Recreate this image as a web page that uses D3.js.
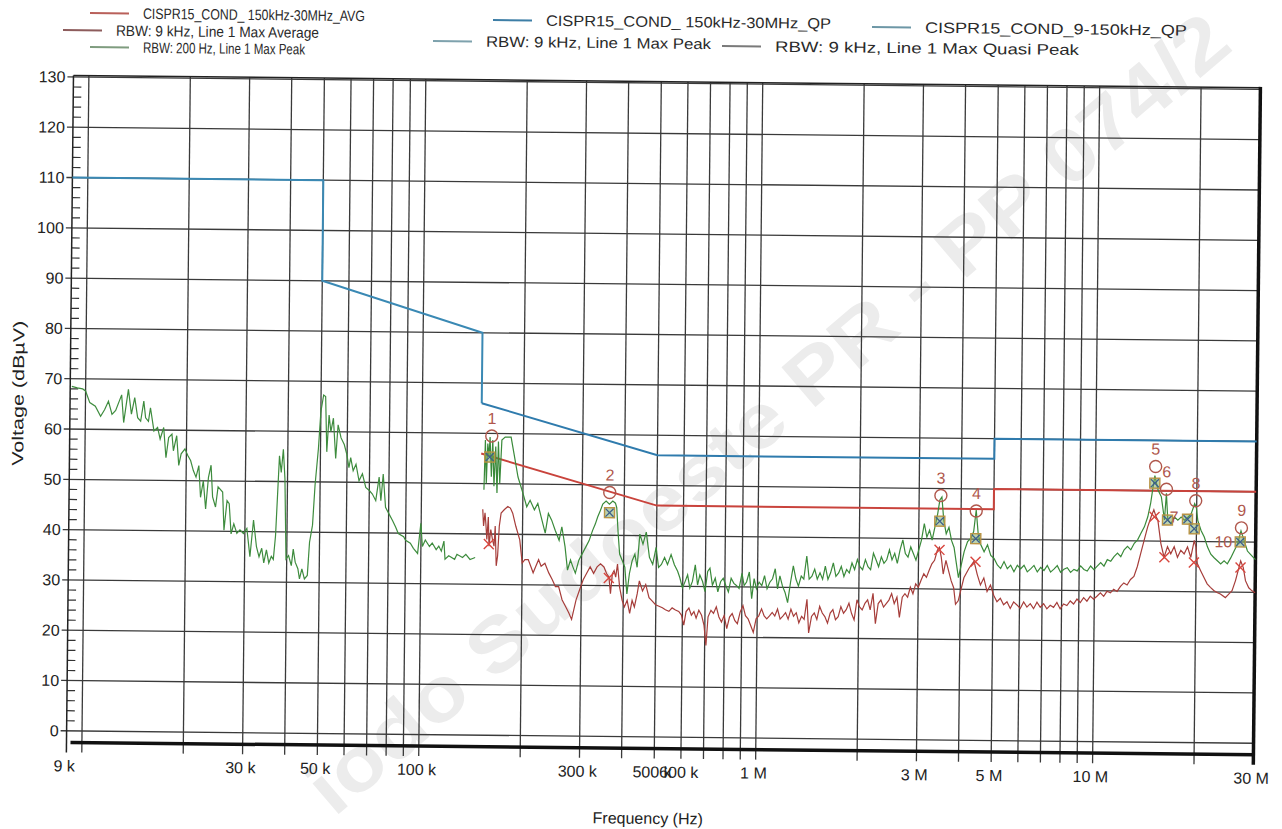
<!doctype html>
<html>
<head>
<meta charset="utf-8">
<title>CISPR15 conducted emissions</title>
<script src="https://cdn.jsdelivr.net/npm/d3@7"></script>
<style>
  body { margin: 0; background: #fff; }
  text { font-family: "Liberation Sans", Arial, sans-serif; fill: #222; }
  .leg text { font-family: "Liberation Sans Narrow", "Liberation Sans", Arial, sans-serif; font-size: 15px; fill: #2a2a2a; }
  .stamp { font-family: "Liberation Sans", Arial, sans-serif; font-weight: bold; fill: #ececec; }
</style>
</head>
<body>
<svg id="chart" width="1282" height="829"></svg>
<script>
// ---- data (frequency in kHz, level in dBuV) ----
const limitAvg   = [[150, 56], [500, 46], [5000, 46], [5000, 50], [30000, 50]];
const limitQp    = [[150, 66], [500, 56], [5000, 56], [5000, 60], [30000, 60]];
const limitQpLow = [[9, 110], [50, 110], [50, 90], [150, 80], [150, 66]];

// RBW 200 Hz max peak, 9 kHz - 150 kHz
const peak200 = [[9.1,68.5],[9.45,68.2],[9.8,68.0],[10,67.6],[10.3,65.3],[10.7,64.6],[11.1,62.6],[11.4,63.9],[11.7,65.6],[12.0,63.0],
  [12.3,63.8],[12.8,66.9],[13.0,61.4],[13.4,68.0],[13.7,63.1],[14.0,66.4],[14.3,62.4],[14.6,61.7],[14.9,65.7],[15.1,62.4],
  [15.4,61.7],[15.6,64.4],[16.0,59.8],[16.4,60.5],[16.7,58.2],[17.1,60.5],[17.4,54.5],[17.7,58.5],[18.1,59.2],[18.3,55.9],
  [18.7,58.9],[19.0,53.0],[19.3,55.3],[19.8,56.3],[20.2,55.0],[20.6,54.0],[21.0,52.0],[21.4,50.7],[21.8,53.0],[22.1,46.7],
  [22.5,50.0],[22.9,44.4],[23.3,50.7],[23.7,53.1],[24.0,46.8],[24.5,44.8],[24.9,48.8],[25.7,47.8],[26.0,40.2],[26.5,46.1],
  [26.9,45.5],[27.3,39.5],[27.8,41.5],[28.4,39.6],[29.0,40.3],[29.7,39.6],[30.4,40.6],[31.1,35.0],[31.8,42.3],[32.5,37.0],
  [33.1,35.0],[33.7,36.7],[34.2,33.8],[34.8,36.4],[35.4,33.8],[36.0,35.1],[36.5,34.5],[37.0,39.2],[37.8,55.1],[38.3,51.8],
  [38.8,56.4],[39.3,50.5],[39.8,34.6],[40.5,35.3],[41.3,33.3],[41.8,36.6],[42.4,34.0],[43.2,32.7],[43.7,30.7],[44.4,32.7],
  [45.2,30.7],[46.1,31.4],[46.7,38.0],[47.6,41.4],[48.3,49.4],[49.3,56.7],[50.0,64.0],[50.9,67.3],[51.6,67.0],[52.2,56.0],
  [52.9,63.3],[53.6,60.0],[54.5,62.7],[55.5,54.7],[56.3,61.4],[57.5,58.8],[58.8,57.5],[59.9,55.5],[60.8,52.9],[61.5,54.9],
  [62.6,52.3],[63.8,53.6],[65.2,50.3],[66.7,51.7],[68.3,49.0],[70.0,48.4],[71.5,47.7],[73.2,46.4],[74.8,51.1],[75.8,46.4],
  [76.9,51.7],[78.3,45.1],[80.2,43.8],[82.2,42.5],[84.0,41.2],[85.6,39.9],[88.8,39.3],[90,38.6],[93,38.0],[95,37.0],
  [97.8,36.0],[99.8,42.0],[101,37.4],[103,38.7],[106,37.4],[108,38.1],[111,36.8],[113,37.5],[115,36.5],[117,38.5],
  [118,34.9],[121,35.6],[126,34.9],[128,35.9],[133,35.3],[136,35.9],[140,34.9],[145,35.3]];

// RBW 9 kHz max peak, 150 kHz - 30 MHz
const peak9k = [[153.2,48.8],[154.2,58.7],[155.6,50.1],[156.8,58.0],[158.2,55.4],[159.2,59.3],[161,51.4],[162.2,58.7],[164,49.5],[165.6,57.4],
  [167.5,48.2],[168.6,58.4],[170.6,50.1],[172.6,58.7],[176.5,59.3],[180.6,59.3],[183.8,59.3],[187.6,56.1],[193.2,51.4],[200,48.2],
  [205.5,45.5],[210.2,46.8],[216.6,44.9],[221.6,46.2],[226.7,43.6],[233.6,40.3],[238.4,44.2],[243.9,42.9],[250,40.9],[257,38.9],
  [261.6,41.6],[267.8,37.6],[272.7,33.0],[278.2,35.0],[282.7,33.7],[287.8,32.4],[294.5,35.0],[301.4,36.3],[308.4,37.6],[315.5,38.9],
  [322.7,40.9],[328.7,42.2],[333.9,43.6],[340,44.9],[345.5,46.2],[353.4,46.8],[361.6,46.2],[369.9,46.8],[376.7,46.4],[380.2,45.5],
  [384.6,40.3],[389,36.3],[396.2,35.0],[403.4,33.7],[409.9,28.4],[416.4,32.4],[424,35.0],[431.8,36.3],[438.8,33.7],
  [446,40.3],[456,38.3],[466,40.7],[477,35.7],[488,34.3],[499,37.7],[508,33.7],[518,34.3],[529,35.7],[540,34.3],
  [553,36.3],[566,34.3],[579,33.0],[588,31.7],[599,29.7],[610,31.0],[620,32.3],[630,29.7],[641,31.0],[653,34.3],
  [664,30.3],[674,32.3],[687,31.0],[699,29.0],[711,33.0],[722,33.7],[735,30.3],[749,31.7],[763,29.0],[777,31.0],
  [791,31.7],[805,30.3],[820,29.0],[835,31.7],[851,30.7],[866,30.3],[882,29.7],[899,32.7],[913,30.3],[928,31.0],
  [945,33.0],[962,27.7],[977,31.7],[993,29.7],[1011,31.0],[1030,30.3],[1049,32.3],[1068,29.7],[1088,31.0],[1108,31.7],
  [1128,33.7],[1147,29.7],[1165,32.3],[1186,30.3],[1208,29.0],[1230,27.0],[1253,31.0],[1276,34.3],[1300,31.7],[1323,30.3],
  [1348,32.3],[1372,31.7],[1398,36.3],[1423,31.7],[1450,32.3],[1477,33.7],[1504,31.7],[1532,33.0],[1560,31.7],[1588,34.3],
  [1618,31.7],[1647,33.0],[1677,35.0],[1708,32.3],[1740,33.0],[1771,34.3],[1804,32.3],[1837,33.7],[1871,33.0],[1905,35.0],
  [1940,33.7],[1976,35.7],[2012,34.3],[2049,33.7],[2087,35.7],[2125,34.3],[2164,33.7],[2204,37.0],[2244,35.7],[2285,34.3],
  [2327,36.3],[2370,35.0],[2414,35.7],[2458,37.7],[2503,35.7],[2549,37.0],[2596,35.0],[2643,37.7],[2692,39.7],[2741,37.0],
  [2792,36.3],[2843,38.3],[2895,37.0],[2948,35.7],[3002,37.7],[3057,39.7],[3114,43.0],[3171,40.3],[3229,41.7],[3288,39.7],
  [3348,42.3],[3410,45.0],[3457,47.7],[3505,48.3],[3555,43.7],[3619,41.0],[3686,42.3],[3754,39.7],[3822,38.3],[3875,35.7],
  [3946,32.3],[4096,37.5],[4190,39.5],[4290,40.2],[4365,41.5],[4435,45.8],[4505,40.9],[4588,38.9],[4694,37.5],[4803,38.9],
  [4914,36.8],[5027,36.2],[5143,34.9],[5262,34.2],[5383,35.6],[5508,34.2],[5634,34.9],[5764,33.6],[5897,34.9],[6033,34.2],
  [6172,34.9],[6314,33.6],[6459,34.2],[6607,34.9],[6761,33.6],[6917,34.5],[7076,33.9],[7236,34.9],[7403,33.6],[7573,34.2],
  [7748,34.9],[7926,33.6],[8110,34.2],[8296,34.5],[8488,33.6],[8683,34.2],[8884,33.9],[9089,34.9],[9297,34.2],[9511,33.9],
  [9730,34.9],[9954,34.2],[10180,34.9],[10420,35.6],[10660,34.9],[10900,36.2],[11160,35.9],[11410,36.8],[11680,37.5],[11950,36.8],
  [12220,38.2],[12500,38.9],[12790,38.2],[13090,39.5],[13390,40.2],[13690,41.5],[14010,42.8],[14330,44.8],[14600,47.5],[14830,50.8],
  [15000,53.0],[15170,51.5],[15350,50.1],[15700,48.8],[16060,44.2],[16250,49.5],[16430,44.2],[16810,43.5],[17200,44.8],[17600,44.2],
  [18000,44.8],[18420,44.2],[18840,44.8],[19280,45.5],[19720,47.5],[19950,46.8],[20170,44.2],[20640,42.2],[21110,40.9],[21600,38.9],
  [22100,37.5],[22610,36.8],[23120,36.2],[23660,35.6],[24210,36.2],[24760,35.6],[25330,36.8],[25910,38.2],[26500,39.5],[27120,42.2],
  [27750,40.2],[28380,38.2],[29030,37.5],[29700,36.8],[30000,36.5]];

// RBW 9 kHz max average, 150 kHz - 30 MHz
const avg9k = [[152.2,44.9],[153.2,41.6],[154.6,44.2],[155.6,42.1],[156.8,38.9],[158.2,43.4],[159.2,37.6],[161,40.9],[163,38.9],[164.8,37.6],
  [165.9,41.6],[167.5,33.7],[169,35.7],[170.6,41.6],[172.6,44.2],[176.5,44.9],[180.6,45.5],[183.8,45.2],[186.8,44.2],[191,41.6],
  [196.4,38.9],[200,34.3],[203.7,35.0],[208.4,35.0],[212.1,33.7],[215.7,32.4],[219.6,33.7],[223.7,35.0],[227.7,33.7],[233.6,34.3],
  [240,32.4],[245.8,31.1],[251.4,29.7],[257,29.7],[263.3,27.1],[269.6,25.8],[275.9,24.5],[281.4,23.2],[289.8,27.1],[296.7,29.1],
  [303.8,31.1],[311,32.4],[318.4,33.7],[326,32.4],[333.8,33.7],[341.7,34.3],[349.8,33.7],[356.3,32.4],[362.2,31.7],[366.4,28.4],
  [370.7,32.4],[375,33.0],[379.3,31.7],[383.7,34.3],[389.9,29.7],[397,27.1],[403.4,25.8],[410.8,27.1],[418.3,24.5],[425,27.1],
  [431.8,25.8],[439.8,28.4],
  [446,31.0],[456,29.0],[466,30.3],[477,27.7],[488,27.0],[499,26.3],[511,26.0],[523,25.7],[534,25.3],[547,25.0],
  [559,25.7],[572,25.3],[585,25.0],[596,24.3],[606,22.3],[615,25.0],[627,25.7],[638,24.3],[649,25.0],[659,23.7],
  [671,25.3],[684,24.3],[696,22.3],[706,18.3],[715,24.0],[729,25.3],[742,24.7],[756,26.0],[770,24.0],[784,23.0],
  [798,24.3],[813,21.7],[828,24.0],[843,24.7],[859,23.3],[874,22.7],[890,25.0],[907,26.3],[923,24.3],[940,23.7],
  [958,22.3],[975,21.0],[993,23.7],[1011,24.3],[1030,25.7],[1049,24.3],[1068,23.7],[1088,24.3],[1108,25.0],[1128,24.3],
  [1149,25.7],[1170,23.7],[1192,24.3],[1214,25.0],[1236,23.7],[1259,25.7],[1282,24.3],[1306,25.0],[1330,23.0],[1355,24.3],
  [1379,23.7],[1404,27.7],[1423,21.0],[1450,24.3],[1477,25.0],[1504,23.7],[1532,26.3],[1560,25.0],[1588,24.3],[1618,23.0],
  [1647,25.0],[1677,25.7],[1708,23.7],[1740,24.3],[1771,26.3],[1804,25.0],[1837,25.7],[1871,27.0],[1905,25.0],[1940,23.7],
  [1976,27.7],[2012,26.3],[2049,25.7],[2087,27.0],[2125,27.7],[2164,25.7],[2204,29.0],[2244,23.0],[2285,27.0],[2327,27.7],
  [2370,26.3],[2414,27.0],[2458,27.7],[2503,29.0],[2549,27.0],[2596,28.3],[2643,24.3],[2692,28.3],[2741,29.0],[2792,28.3],
  [2843,30.3],[2895,29.0],[2948,31.0],[3002,30.3],[3057,31.7],[3114,33.0],[3171,32.3],[3229,33.7],[3288,35.0],[3348,35.7],
  [3410,37.7],[3457,38.3],[3505,36.3],[3555,33.0],[3619,35.7],[3686,33.7],[3754,31.7],[3822,30.3],[3875,27.0],[3946,27.7],
  [4096,32.3],[4240,34.2],[4385,35.6],[4485,33.0],[4588,30.9],[4694,32.3],[4803,29.6],[4914,30.9],[5027,28.9],[5143,27.6],
  [5262,28.3],[5383,27.0],[5508,27.6],[5634,26.3],[5764,27.6],[5897,27.0],[6033,26.3],[6172,27.6],[6314,26.6],[6459,27.3],
  [6607,26.3],[6761,27.6],[6917,26.6],[7076,27.3],[7236,26.3],[7403,27.0],[7573,26.6],[7748,27.6],[7926,26.3],[8110,27.3],
  [8296,27.0],[8488,27.9],[8683,27.3],[8884,28.3],[9089,27.6],[9297,28.6],[9511,27.9],[9730,28.9],[9954,28.3],[10180,28.9],
  [10420,29.6],[10660,28.9],[10900,29.9],[11160,29.6],[11410,30.3],[11680,29.9],[11950,30.9],[12220,31.6],[12500,31.2],[12790,32.3],
  [13090,32.9],[13390,34.9],[13690,37.5],[14010,40.2],[14330,42.8],[14660,44.8],[14930,46.2],[15170,44.8],[15350,44.2],[15700,39.5],
  [16060,36.8],[16430,38.9],[16810,37.5],[17200,38.9],[17600,36.8],[18000,38.2],[18420,37.5],[18840,38.9],[19280,36.8],[19720,40.2],
  [19950,38.9],[20170,35.6],[20640,34.2],[21110,32.9],[21600,31.6],[22100,30.9],[22610,30.3],[23120,29.9],[23660,29.6],[24480,28.9],
  [25050,29.6],[25620,30.3],[26210,32.3],[26810,34.9],[27120,36.2],[27620,34.9],[28060,32.3],[28710,30.9],[29360,30.3],[30000,29.9]];

// markers
const peakMarkers = [[161,59.5,"1"],[362,48.5,"2"],[3480,48.6,"3"],[4435,45.6,"4"],[15070,54.8,"5"],[16250,50.3,"6"],[19860,48.1,"8"],[27200,42.8,"9"]];
const sideMarkers = [[18800,44.8,"7"],[27200,40.0,"10"]];
const qpMarkers  = [[159,55.3],[362,44.5],[3460,43.5],[4430,40.1],[15000,51.5],[16400,44.2],[18800,44.4],[19700,42.5],[27000,40.0]];
const avgMarkers = [[159,38.0],[362,31.5],[3460,37.8],[4430,35.5],[15000,44.8],[16100,36.8],[19700,35.8],[27100,34.9]];

const yTicks = d3.range(0, 131, 10);
const xTickFreqs  = [9, 30, 50, 100, 300, 500, 600, 1000, 3000, 5000, 10000, 30000];
const xTickLabels = ["9 k", "30 k", "50 k", "100 k", "300 k", "500 k", "600 k", "1 M", "3 M", "5 M", "10 M", "30 M"];

const legendLabels = ["CISPR15_COND_ 150kHz-30MHz_AVG", "CISPR15_COND_ 150kHz-30MHz_QP", "CISPR15_COND_9-150kHz_QP",
  "RBW: 9 kHz, Line 1 Max Average", "RBW: 9 kHz, Line 1 Max Peak", "RBW: 9 kHz, Line 1 Max Quasi Peak",
  "RBW: 200 Hz, Line 1 Max Peak"];
const legendColors = ["#b9605a", "#3d7ea6", "#6d97a6", "#8d5c5c", "#7ea2ad", "#7a7a7a", "#7f9c7f"];

const stampText = "iodo Sudoeste PR - PP 074/2";

// ---- chart ----
const svg = d3.select("#chart");
const tilt = 0.6;  // the scanned sheet is slightly rotated

// faint stamp across the sheet
svg.append("text").attr("class", "stamp")
  .attr("transform", "translate(334,818) rotate(-40.5)")
  .attr("textLength", 1185).attr("lengthAdjust", "spacingAndGlyphs")
  .style("font-size", "76px")
  .text(stampText);

const x = d3.scaleLog().domain([9e3, 30e6]).range([70, 1257]);
const y = d3.scaleLinear().domain([-2.3, 130.3]).range([748.6, 81.6]);
const fx = d => x(d[0] * 1e3);
const fy = d => y(d[1]);
const line = d3.line().x(fx).y(fy);

const g = svg.append("g").attr("transform", `rotate(${tilt},660,410)`);

const x0 = x.range()[0], x1 = x.range()[1];
const yb = y.range()[0], yt = y.range()[1];

// vertical grid
const gridFreqs = [];
for (const d of [1e4, 1e5, 1e6, 1e7]) {
  for (let m = 1; m <= 9; m++) {
    const f = m * d;
    if (f < 30e6) gridFreqs.push(f);
  }
}
g.append("g").selectAll("line").data(gridFreqs).join("line")
  .attr("x1", d => x(d)).attr("x2", d => x(d))
  .attr("y1", yt).attr("y2", yb + 10)
  .attr("stroke", "#3a3a3a").attr("stroke-width", 1.3);

// horizontal grid
g.append("g").selectAll("line").data(yTicks).join("line")
  .attr("x1", x0 - 6).attr("x2", x1)
  .attr("y1", d => y(d)).attr("y2", d => y(d))
  .attr("stroke", "#3a3a3a").attr("stroke-width", 1.3);

// minor y ticks inside the 9k-10k strip
const minor = d3.range(0, 130, 2).filter(v => v % 10 !== 0);
g.append("g").selectAll("line").data(minor).join("line")
  .attr("x1", x0).attr("x2", x0 + 8)
  .attr("y1", d => y(d)).attr("y2", d => y(d))
  .attr("stroke", "#333").attr("stroke-width", 1.2);

// frame
g.append("line").attr("x1", x0).attr("x2", x0).attr("y1", yt).attr("y2", yb + 10)
  .attr("stroke", "#222").attr("stroke-width", 1.5);
g.append("line").attr("x1", x0).attr("x2", x1).attr("y1", yt).attr("y2", yt)
  .attr("stroke", "#222").attr("stroke-width", 1.5);
g.append("line").attr("x1", x0 + 4).attr("x2", x1 + 1.5).attr("y1", yb).attr("y2", yb)
  .attr("stroke", "#111").attr("stroke-width", 3.5);
g.append("line").attr("x1", x1).attr("x2", x1).attr("y1", yt - 1).attr("y2", yb + 10)
  .attr("stroke", "#111").attr("stroke-width", 3.5);

// axis labels
g.append("g").selectAll("text").data(yTicks).join("text")
  .attr("x", x0 - 8).attr("y", d => y(d)).attr("dy", "0.35em")
  .attr("text-anchor", "end").style("font-size", "16px")
  .text(d => d);

g.append("g").selectAll("text").data(xTickFreqs).join("text")
  .attr("x", d => x(d * 1e3) - 2).attr("y", yb + 29)
  .attr("text-anchor", "middle").style("font-size", "16px")
  .text((d, i) => xTickLabels[i]);

g.append("text").attr("transform", "translate(18,400) rotate(-90)")
  .attr("text-anchor", "middle").attr("dy", "0.35em").style("font-size", "16px")
  .attr("textLength", 145).attr("lengthAdjust", "spacingAndGlyphs")
  .text("Voltage (dBµV)");
g.append("text").attr("x", 652).attr("y", 824)
  .attr("text-anchor", "middle").style("font-size", "16px")
  .text("Frequency (Hz)");

// limits
g.append("path").datum(limitQpLow).attr("d", line)
  .attr("fill", "none").attr("stroke", "#3a89b4").attr("stroke-width", 2);
g.append("path").datum(limitQp).attr("d", line)
  .attr("fill", "none").attr("stroke", "#2f7bad").attr("stroke-width", 2);
g.append("path").datum(limitAvg).attr("d", line)
  .attr("fill", "none").attr("stroke", "#c9433c").attr("stroke-width", 2);

// traces
g.append("path").datum(peak200).attr("d", line)
  .attr("fill", "none").attr("stroke", "#3e8c3e").attr("stroke-width", 1.2);
g.append("path").datum(avg9k).attr("d", line)
  .attr("fill", "none").attr("stroke", "#a63d3a").attr("stroke-width", 1.2);
g.append("path").datum(peak9k).attr("d", line)
  .attr("fill", "none").attr("stroke", "#3a8a3a").attr("stroke-width", 1.2);

// markers
const mk = "#b0574c";
g.append("g").selectAll("rect").data(qpMarkers).join("rect")
  .attr("x", d => fx(d) - 5).attr("y", d => fy(d) - 5)
  .attr("width", 10).attr("height", 10)
  .attr("fill", "#7aa65a").attr("fill-opacity", 0.5)
  .attr("stroke", "#b99445").attr("stroke-width", 1.4);
const qx = g.append("g");
qpMarkers.forEach(d => {
  qx.append("path")
    .attr("d", `M${fx(d) - 4},${fy(d) - 4}L${fx(d) + 4},${fy(d) + 4}M${fx(d) - 4},${fy(d) + 4}L${fx(d) + 4},${fy(d) - 4}`)
    .attr("stroke", "#3d5f8c").attr("stroke-width", 1.3);
});
const ax = g.append("g");
avgMarkers.forEach(d => {
  ax.append("path")
    .attr("d", `M${fx(d) - 5},${fy(d) - 5}L${fx(d) + 5},${fy(d) + 5}M${fx(d) - 5},${fy(d) + 5}L${fx(d) + 5},${fy(d) - 5}`)
    .attr("stroke", "#d8463e").attr("stroke-width", 1.4);
});
g.append("g").selectAll("circle").data(peakMarkers).join("circle")
  .attr("cx", fx).attr("cy", fy).attr("r", 6)
  .attr("fill", "none").attr("stroke", mk).attr("stroke-width", 1.4);
g.append("g").selectAll("text").data(peakMarkers).join("text")
  .attr("x", fx).attr("y", d => fy(d) - 12)
  .attr("text-anchor", "middle").style("font-size", "16px").style("fill", mk)
  .text(d => d[2]);
g.append("g").selectAll("text").data(sideMarkers).join("text")
  .attr("x", d => fx(d) - 9).attr("y", fy).attr("dy", "0.35em")
  .attr("text-anchor", "end").style("font-size", "16px").style("fill", mk)
  .text(d => d[2]);

// legend, laid out as on the scanned sheet: three staggered columns
const legPos = [[90, 13, 222], [493, 20, 285], [872, 27, 262],
                [63, 30, 203], [433, 41, 225], [722, 46, 304],
                [90, 47, 162]];
const leg = svg.append("g").attr("class", "leg");
legendLabels.forEach((label, i) => {
  const [lx, ly, tw] = legPos[i];
  const li = leg.append("g").attr("transform", `translate(${lx},${ly}) rotate(${tilt})`);
  li.append("line").attr("x1", 0).attr("x2", 39).attr("y1", 0).attr("y2", 0)
    .attr("stroke", legendColors[i]).attr("stroke-width", 2);
  li.append("text").attr("x", 53).attr("y", 0).attr("dy", "0.35em")
    .attr("textLength", tw).attr("lengthAdjust", "spacingAndGlyphs")
    .text(label);
});
</script>
</body>
</html>
